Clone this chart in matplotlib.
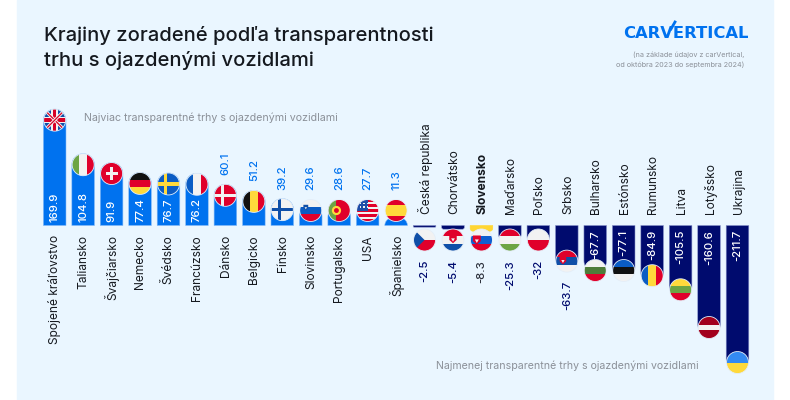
# Krajiny zoradene podla transparentnosti trhu
import numpy as np
import matplotlib
matplotlib.use("Agg")
import matplotlib.pyplot as plt
from matplotlib.patches import Circle, Rectangle, Polygon
from matplotlib.lines import Line2D
from matplotlib.transforms import Affine2D

plt.rcParams['font.family'] = ['Inter', 'DejaVu Sans']

countries = ["Spojené kráľovstvo", "Taliansko", "Švajčiarsko", "Nemecko", "Švédsko",
             "Francúzsko", "Dánsko", "Belgicko", "Fínsko", "Slovinsko", "Portugalsko",
             "USA", "Španielsko", "Česká republika", "Chorvátsko", "Slovensko",
             "Maďarsko", "Poľsko", "Srbsko", "Bulharsko", "Estónsko", "Rumunsko",
             "Litva", "Lotyšsko", "Ukrajina"]
values = [169.9, 104.8, 91.9, 77.4, 76.7, 76.2, 60.1, 51.2, 39.2, 29.6, 28.6, 27.7, 11.3,
          -2.5, -5.4, -8.3, -25.3, -32, -63.7, -67.7, -77.1, -84.9, -105.5, -160.6, -211.7]
value_labels = ["169.9", "104.8", "91.9", "77.4", "76.7", "76.2", "60.1", "51.2", "39.2",
                "29.6", "28.6", "27.7", "11.3", "-2.5", "-5.4", "-8.3", "-25.3", "-32",
                "-63.7", "-67.7", "-77.1", "-84.9", "-105.5", "-160.6", "-211.7"]

BLUE = "#0072ef"
NAVY = "#000b6e"
YELLOW = "#ffd633"
GREY = "#8b9098"
DARK = "#15191f"
R_ = "#e0002b"
W_ = "#f2f2f2"
B_ = "#0b5cc4"
Y_ = "#ffd93b"
G_ = "#6da544"

W, H = 790, 400
K = 0.685      # px per value
ZERO = 225.5   # px from top
PITCH = 28.45
X0 = 54.7
HALF = 11.3
RAD = 11

fig = plt.figure(figsize=(7.9, 4), dpi=100, facecolor="white")
ax = fig.add_axes([0, 0, 1, 1])
ax.set_xlim(-X0 / PITCH, (W - X0) / PITCH)
ax.set_ylim(-(H - ZERO) / K, ZERO / K)
ax.axis("off")
ax.add_patch(Rectangle((17 / W, 0), 756 / W, 1, transform=ax.transAxes, color="#eaf6ff", zorder=0))


def bar_shape(i, v):
    # rounded end on the far side from zero
    s = 1 if v > 0 else -1
    h = abs(v) * K
    r = min(RAD, h) if v > 0 else min(RAD, h * 0.5)
    a = np.linspace(0, np.pi / 2, 12)
    hw = HALF / PITCH
    rx = min(r, HALF) / PITCH
    ry = r / K
    pts = [(i - hw, 0)]
    pts += [(i - hw + rx * (1 - np.cos(t)), v - s * ry * (1 - np.sin(t))) for t in a]
    pts += [(i + hw - rx * (1 - np.cos(t)), v - s * ry * (1 - np.sin(t))) for t in a[::-1]]
    pts += [(i + hw, 0)]
    return pts


def flag(name, cx, cy):
    px, py = ax.transData.transform((cx, cy))
    tr = Affine2D().scale(11).translate(px, py)
    clip = Circle((0, 0), 1, transform=tr, fc="none", ec="none")
    ax.add_patch(clip)
    z = 5

    def rect(x, y, w, h, c):
        p = Rectangle((x, y), w, h, transform=tr, color=c, lw=0, zorder=z)
        ax.add_patch(p)
        p.set_clip_path(clip)

    def poly(pts, c):
        p = Polygon(pts, transform=tr, color=c, lw=0, zorder=z + 1)
        ax.add_patch(p)
        p.set_clip_path(clip)

    def hb(cols, fr=None):
        fr = fr or [1] * len(cols)
        edges = 1 - 2 * np.cumsum([0] + fr) / sum(fr)
        for c, a, b in zip(cols, edges[:-1], edges[1:]):
            rect(-1, b, 2, a - b, c)

    def vb(cols):
        n = len(cols)
        for j, c in enumerate(cols):
            rect(-1 + 2 * j / n, -1, 2 / n, 2, c)

    def cross(c, x, y, t):
        rect(x - t / 2, -1, t, 2, c)
        rect(-1, y - t / 2, 2, t, c)

    def shield(x, y, s, top, low):
        poly([(x - s, y + s), (x + s, y + s), (x + s, y - s * .4), (x, y - s * 1.3), (x - s, y - s * .4)], top)
        poly([(x - s * .5, y), (x + s * .5, y), (x, y - s * .9)], low)

    if name == "Spojené kráľovstvo":
        rect(-1, -1, 2, 2, "#0f4fa8")
        for sx in (1, -1):
            poly([(sx * -1, .8), (sx * -.8, 1), (sx * 1, -.8), (sx * .8, -1)], W_)
            poly([(sx * -1, .92), (sx * -.92, 1), (sx * 1, -.92), (sx * .92, -1)], "#d80027")
        rect(-.3, -1, .6, 2, W_); rect(-1, -.3, 2, .6, W_)
        rect(-.16, -1, .32, 2, "#d80027"); rect(-1, -.16, 2, .32, "#d80027")
    elif name == "Taliansko":
        vb([G_, W_, R_])
    elif name == "Švajčiarsko":
        rect(-1, -1, 2, 2, R_)
        rect(-.16, -.55, .32, 1.1, W_); rect(-.55, -.16, 1.1, .32, W_)
    elif name == "Nemecko":
        hb(["#111111", R_, Y_])
    elif name == "Švédsko":
        rect(-1, -1, 2, 2, B_)
        cross(Y_, -.25, 0, .3)
    elif name == "Francúzsko":
        vb([B_, W_, R_])
    elif name == "Dánsko":
        rect(-1, -1, 2, 2, R_)
        cross(W_, -.25, 0, .28)
    elif name == "Belgicko":
        vb(["#111111", Y_, R_])
    elif name == "Fínsko":
        rect(-1, -1, 2, 2, W_)
        cross("#0f4fa8", -.25, 0, .3)
    elif name == "Slovinsko":
        hb([W_, B_, R_])
        shield(-.45, .3, .22, "#0f4fa8", W_)
    elif name == "Portugalsko":
        rect(-1, -1, 2, 2, R_)
        rect(-1, -1, .75, 2, G_)
        ax.add_patch(Circle((-.25, 0), .42, transform=tr, color=Y_, lw=0, zorder=z + 1))
        ax.add_patch(Circle((-.25, 0), .22, transform=tr, color=R_, lw=0, zorder=z + 2))
    elif name == "USA":
        hb([R_, W_] * 4 + [R_])
        rect(-1, 0, 1, 1, "#1f4ea8")
        for a in (-.7, -.4, -.1):
            for b in (.25, .55):
                rect(a, b, .14, .14, W_)
    elif name == "Španielsko":
        hb([R_, Y_, R_], [1, 2, 1])
    elif name == "Česká republika":
        hb([W_, R_])
        poly([(-1, 1), (0, 0), (-1, -1)], "#0f4fa8")
    elif name == "Chorvátsko":
        hb([R_, W_, "#0f4fa8"])
        shield(0, .15, .34, R_, W_)
    elif name == "Slovensko":
        hb([W_, "#0f5fd0", R_])
        shield(-.42, .05, .36, R_, W_)
    elif name == "Maďarsko":
        hb([R_, W_, G_])
    elif name == "Poľsko":
        hb([W_, R_])
    elif name == "Srbsko":
        hb([R_, "#0f4fa8", W_])
        shield(-.35, .1, .3, R_, W_)
    elif name == "Bulharsko":
        hb([W_, "#4e7c3a", R_])
    elif name == "Estónsko":
        hb([B_, "#111111", W_])
    elif name == "Rumunsko":
        vb([B_, Y_, R_])
    elif name == "Litva":
        hb([Y_, G_, R_])
    elif name == "Lotyšsko":
        hb(["#a2001d", W_, "#a2001d"], [2, 1, 2])
    elif name == "Ukrajina":
        hb(["#338af3", Y_])
    ax.add_patch(Circle((0, 0), 1, transform=tr, fc="none", ec="#e4eef8", lw=0.6, zorder=z + 3))


for i, (name, v, lab) in enumerate(zip(countries, values, value_labels)):
    slovak = name == "Slovensko"
    col = YELLOW if slovak else (BLUE if v > 0 else NAVY)
    edge = YELLOW if slovak else ("#86bbf8" if v > 0 else "#8a95cc")
    ax.add_patch(Polygon(bar_shape(i, v), closed=True, fc=col, ec=edge, lw=0.4, zorder=2))

    if v > 0:
        fy = max(v - RAD / K, 15 / K)
        ax.text(i + 0.01, -9.5 / K, name, rotation=90, ha="center", va="top", fontsize=8.6, color=DARK)
        if v > 70:
            ax.text(i, 3.8 / K, lab, rotation=90, ha="center", va="bottom", fontsize=8.2,
                    color="white", fontweight="medium")
        else:
            ax.text(i, fy + 20 / K, lab, rotation=90, ha="center", va="bottom", fontsize=8.2,
                    color=BLUE, fontweight="medium")
    else:
        fy = min(v + 8 / K, -14.5 / K)
        ax.text(i + 0.04, 11 / K, name, rotation=90, ha="center", va="bottom", fontsize=8.6,
                color=DARK, fontweight="bold" if slovak else "normal")
        if v < -65:
            # flag stays clear of the label inside the bar
            fy = min(fy, -45 / K)
            ax.text(i, -4.5 / K, lab, rotation=90, ha="center", va="top", fontsize=8.2,
                    color="white", fontweight="medium")
        else:
            ax.text(i, fy - 20 / K, lab, rotation=90, ha="center", va="top", fontsize=8.2,
                    color="#2b2f3a" if slovak else NAVY, fontweight="medium")
    flag(name, i, fy)


def ptext(x, y, s, **kw):
    fig.text(x / W, 1 - y / H, s, **kw)


ptext(44, 41, "Krajiny zoradené podľa transparentnosti", fontsize=14.5, color=DARK, fontweight="medium", va="baseline")
ptext(44, 66, "trhu s ojazdenými vozidlami", fontsize=14.5, color=DARK, fontweight="medium", va="baseline")
ptext(83.5, 118, "Najviac transparentné trhy s ojazdenými vozidlami", fontsize=7.65, color=GREY, va="center")
ptext(436, 366, "Najmenej transparentné trhy s ojazdenými vozidlami", fontsize=7.6, color=GREY, va="center")

# logo: wide bold lettering with the long stroke of the V
ptext(623, 38, "CARVERTICAL", fontsize=11.8, color=BLUE, fontweight="bold", ha="left", va="baseline",
      family="DejaVu Sans")
fig.add_artist(Line2D([671 / W, 675 / W], [1 - 29 / H, 1 - 22 / H], color=BLUE, lw=2))
ptext(744, 55, "(na základe údajov z carVertical,", fontsize=5.2, color=GREY, ha="right", va="center")
ptext(744, 65, "od októbra 2023 do septembra 2024)", fontsize=5.2, color=GREY, ha="right", va="center")

fig.savefig("out.png", dpi=100)
